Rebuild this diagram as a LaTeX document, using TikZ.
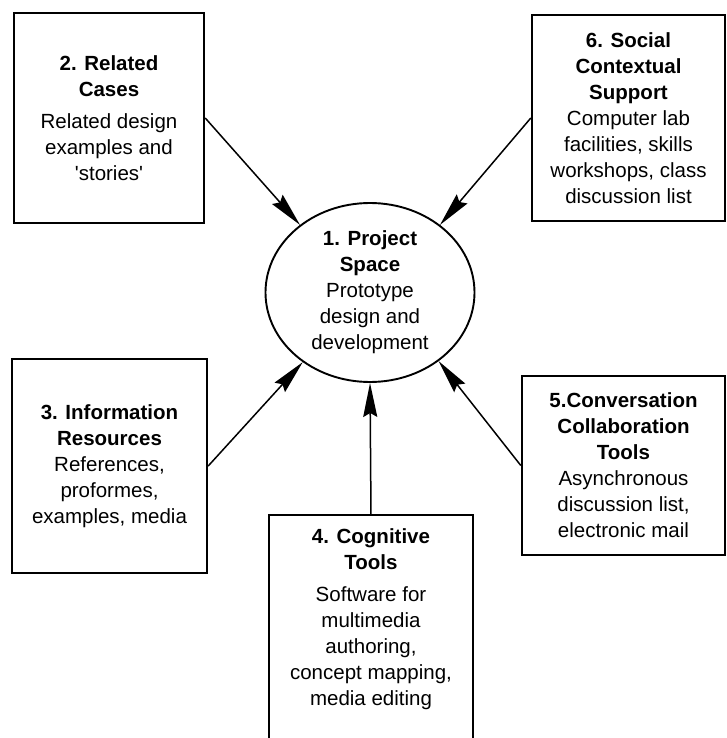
\documentclass[tikz,border=0pt]{standalone}
\usepackage{fontspec}
\setmainfont{Liberation Sans}
\usetikzlibrary{arrows.meta,shapes.geometric}
\newcommand\bxhead[1]{\textbf{#1}}

\begin{document}
\begin{tikzpicture}[x=1pt,y=-1pt,
  boxline/.style={line width=2.4pt},
  box/.style={boxline, draw, align=center, inner sep=0pt,
    font=\fontsize{20.5}{26}\selectfont},
  hubtext/.style={align=center, inner sep=0pt,
    font=\fontsize{20.5}{26}\selectfont},
  link/.style={line width=1.5pt,
    -{Stealth[length=34pt,width=14pt,inset=4pt]}}]

\useasboundingbox (0,0) rectangle (727,738);
\clip (0,0) rectangle (727,738);

% central project space
\node[draw, ellipse, line width=1.9pt, minimum width=209pt,
      minimum height=179pt, inner sep=0pt] (hub) at (370,292.5) {};
\node[hubtext] (hubt) at (hub.center)
  {\bxhead{1. Project}\\ \bxhead{Space}\\ Prototype\\ design and\\ development};

% surrounding support components
\node[box, minimum width=190pt, minimum height=210pt] (b2) at (109,118)
  {\bxhead{2. Related}\\ \bxhead{Cases}\\[6pt] Related design\\ examples and\\
   \textquotesingle stories\textquotesingle};

\node[box, minimum width=193pt, minimum height=206pt] (b6) at (628.5,118)
  {\bxhead{6. Social}\\ \bxhead{Contextual}\\ \bxhead{Support}\\ Computer lab\\
   facilities, skills\\ workshops, class\\ discussion list};

\node[box, minimum width=195pt, minimum height=214pt] (b3) at (109.5,466)
  {\bxhead{3. Information}\\ \bxhead{Resources}\\ References,\\ proformes,\\
   examples, media};

\node[box, minimum width=203pt, minimum height=179pt] (b5) at (623.5,465.5)
  {\bxhead{5.Conversation}\\ \bxhead{Collaboration}\\ \bxhead{Tools}\\
   Asynchronous\\ discussion list,\\ electronic mail};

% cognitive tools box runs off the lower edge
\node[box, draw=none, minimum width=202pt, minimum height=206pt, anchor=north]
  (b4) at (371,515)
  {\bxhead{4. Cognitive}\\ \bxhead{Tools}\\[6pt] Software for\\ multimedia\\
   authoring,\\ concept mapping,\\ media editing};
\draw[boxline] ([yshift=-40pt]b4.south west) -- (b4.north west)
  -- (b4.north east) -- ([yshift=-40pt]b4.south east);

% connectors into the project space
\draw[link] (b2.east) -- (hub.136);
\draw[link] (b6.west) -- (hub.44);
\draw[link] (b3.east) -- (hub.226);
\draw[link] (b5.west) -- (hub.315);
\draw[link] (b4.north) -- (hub.south);

\end{tikzpicture}
\end{document}
